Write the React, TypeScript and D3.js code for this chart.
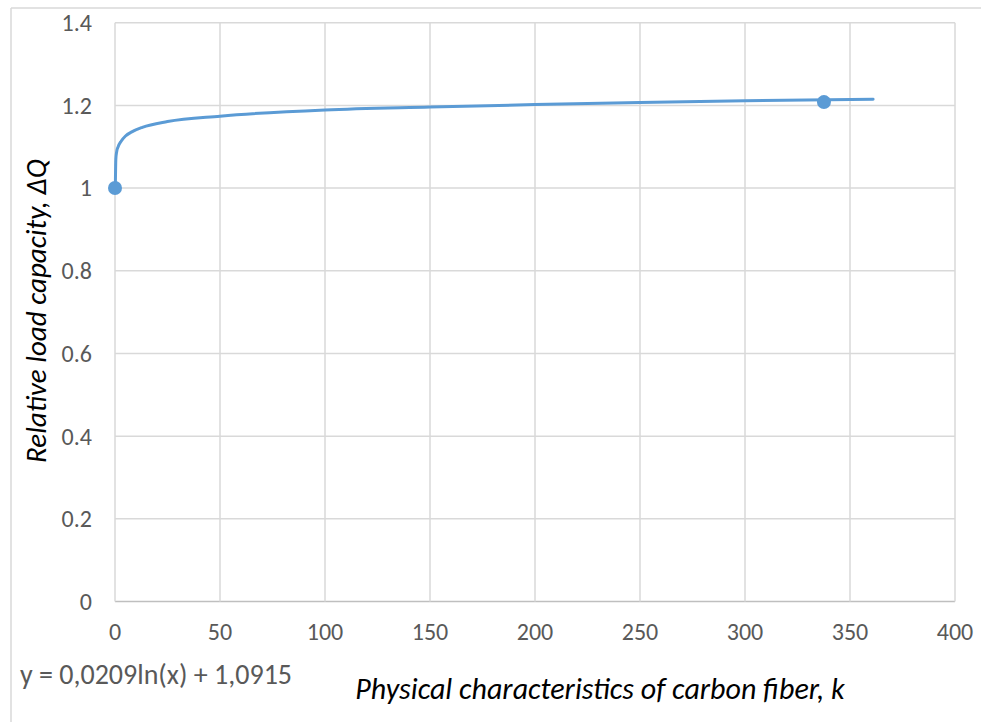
import React from "react";
import * as d3 from "d3";

const curveX = [0.15, 0.4, 0.8, 1.5, 3, 5, 8, 13, 25, 50, 100, 150, 200, 250, 300, 361];
const curveY = [1.0, 1.07, 1.088, 1.1, 1.114, 1.126, 1.136, 1.147, 1.161, 1.174, 1.189, 1.196, 1.202, 1.207, 1.211, 1.215];

// measured points
const pointX = [0, 337.6];
const pointY = [1.0, 1.208];

const xTicks = [0, 50, 100, 150, 200, 250, 300, 350, 400];
const yTicks = [0, 0.2, 0.4, 0.6, 0.8, 1, 1.2, 1.4];

const equation = "y = 0,0209ln(x) + 1,0915";
const xTitle = "Physical characteristics of carbon fiber, k";
const yTitle = "Relative load capacity, ΔQ";

const W = 981;
const H = 722;
const plot = { left: 115, right: 955, top: 22.7, bottom: 601.5 };

const font = "Calibri, Carlito, 'Liberation Sans', Arial, sans-serif";

const App = () => {
  const x = d3.scaleLinear().domain([0, 400]).range([plot.left, plot.right]);
  const y = d3.scaleLinear().domain([0, 1.4]).range([plot.bottom, plot.top]);

  const line = d3
    .line<number>()
    .x((d, i) => x(curveX[i]))
    .y((d) => y(d))
    .curve(d3.curveMonotoneX);

  return (
    <svg width={W} height={H} style={{ position: "absolute", left: 0, top: 0, background: "#fff" }}>
      <rect x={0} y={0} width={W} height={H} fill="#fff" />
      {/* chart border (only top and left visible) */}
      <line x1={11} x2={W} y1={8} y2={8} stroke="#d9d9d9" strokeWidth={1.5} />
      <line x1={11} x2={11} y1={8} y2={H} stroke="#d9d9d9" strokeWidth={1.5} />

      {/* gridlines */}
      {yTicks.map((t) => (
        <line key={"gy" + t} x1={plot.left} x2={plot.right} y1={y(t)} y2={y(t)}
          stroke={t === 0 ? "#bfbfbf" : "#d9d9d9"} strokeWidth={1.5} />
      ))}
      {xTicks.map((t) => (
        <line key={"gx" + t} x1={x(t)} x2={x(t)} y1={plot.top} y2={plot.bottom}
          stroke="#d9d9d9" strokeWidth={1.5} />
      ))}

      {/* tick labels */}
      {yTicks.map((t) => (
        <text key={"ty" + t} x={92} y={y(t)} dy="0.35em" textAnchor="end"
          fontFamily={font} fontSize={24} fill="#595959">
          {String(t)}
        </text>
      ))}
      {xTicks.map((t) => (
        <text key={"tx" + t} x={x(t)} y={632} dy="0.35em" textAnchor="middle"
          fontFamily={font} fontSize={24} fill="#595959">
          {String(t)}
        </text>
      ))}

      {/* series */}
      <path d={line(curveY) || ""} fill="none" stroke="#5b9bd5" strokeWidth={3} strokeLinejoin="round" strokeLinecap="round" />
      {pointX.map((px, i) => (
        <circle key={"p" + i} cx={x(px)} cy={y(pointY[i])} r={7} fill="#5b9bd5" />
      ))}

      {/* titles */}
      <text x={600} y={699} textAnchor="middle" fontFamily={font} fontSize={30}
        fontStyle="italic" fill="#000">
        {xTitle}
      </text>
      <text transform={`translate(46,311) rotate(-90)`} textAnchor="middle" fontFamily={font}
        fontSize={29} fontStyle="italic" fill="#000">
        {yTitle}
      </text>
      <text x={20} y={684} fontFamily={font} fontSize={28} fill="#595959">
        {equation}
      </text>
    </svg>
  );
};

export default App;
